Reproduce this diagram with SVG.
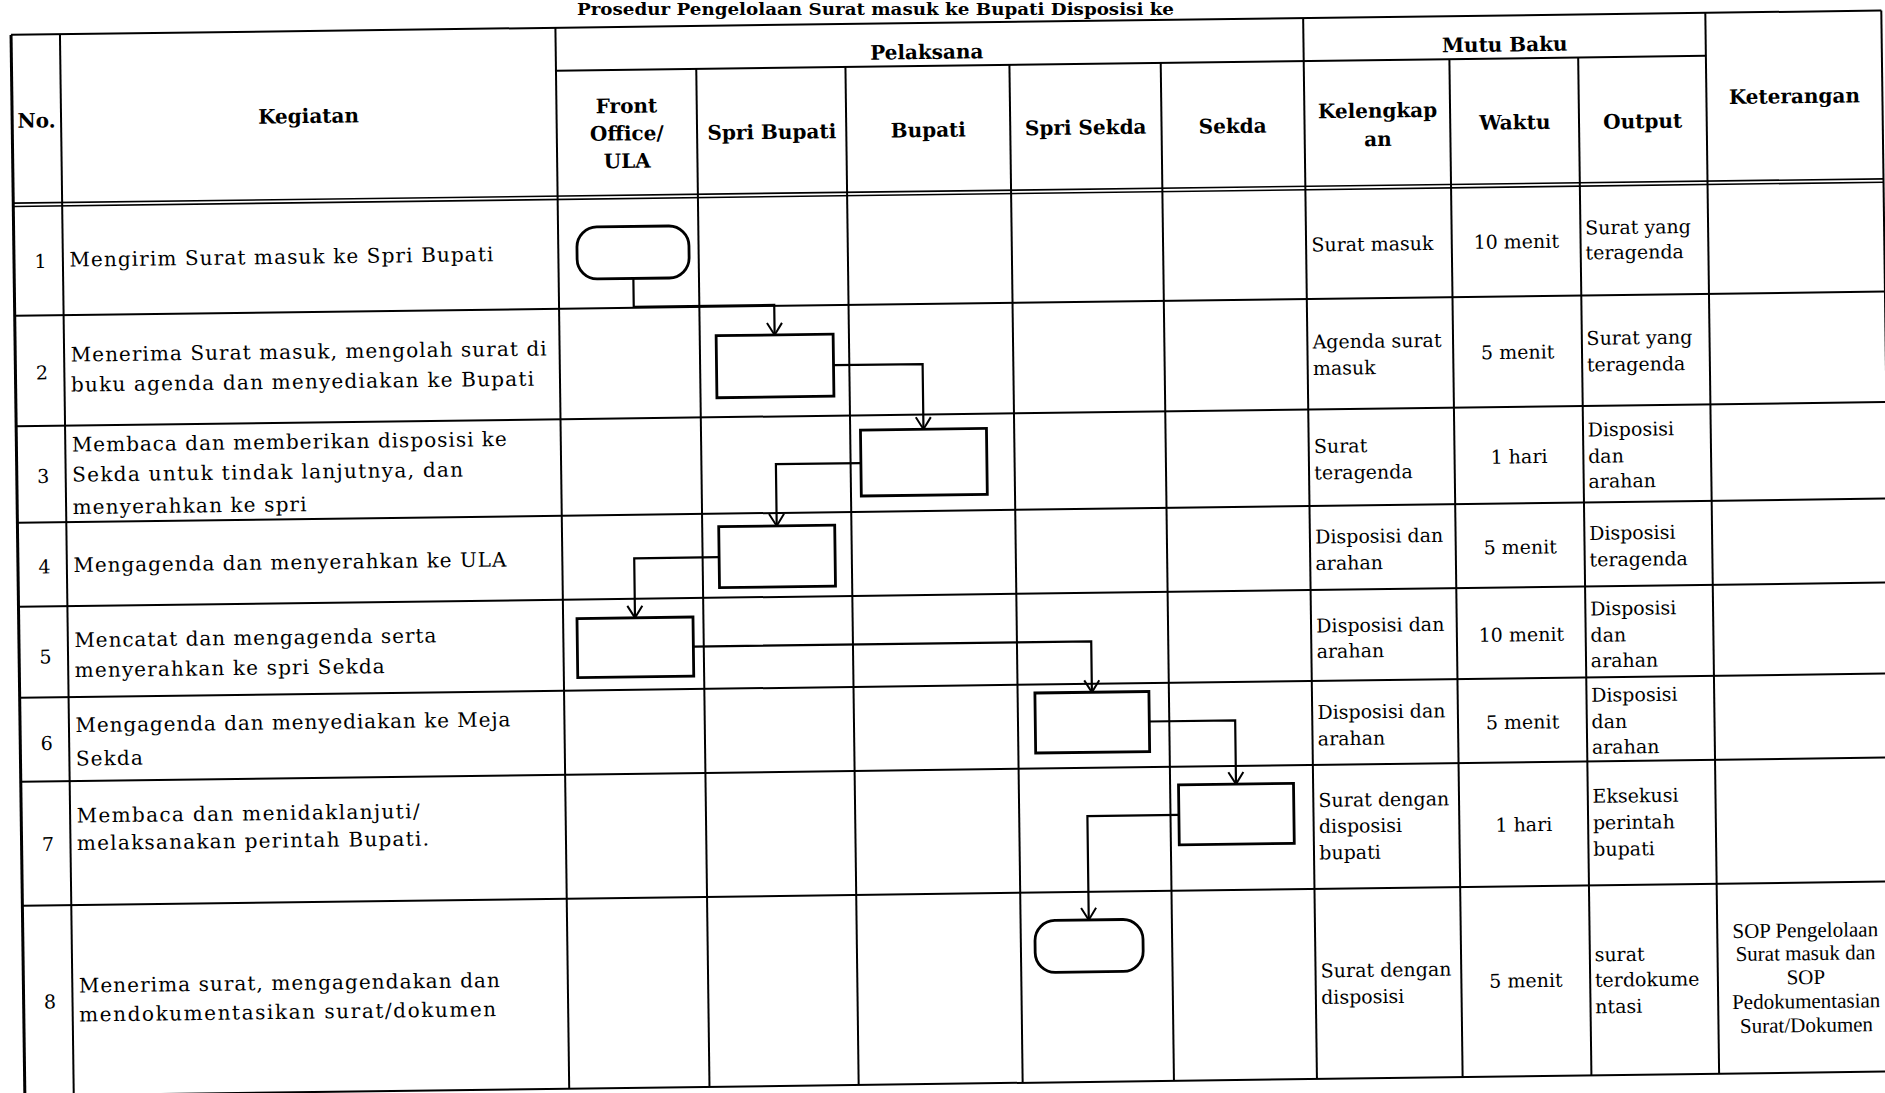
<svg xmlns="http://www.w3.org/2000/svg" width="1885" height="1093" viewBox="0 0 1885 1093">
<style>
.g{stroke:#000;stroke-width:2;fill:none}
.gb{stroke:#000;stroke-width:3;fill:none}
.dl{stroke:#000;stroke-width:1.6;fill:none}
.box{fill:#fff;stroke:#000;stroke-width:2.8}
.cn{fill:none;stroke:#000;stroke-width:2.2}
.h{font-family:"DejaVu Serif","Liberation Serif",serif;font-weight:bold;font-size:20px;fill:#000;text-anchor:middle}
.t{font-family:"DejaVu Serif","Liberation Serif",serif;font-size:20px;fill:#000}
.n{font-family:"DejaVu Serif","Liberation Serif",serif;font-size:19px;fill:#000;text-anchor:middle}
.m{font-family:"DejaVu Serif","Liberation Serif",serif;font-size:19px;fill:#000}
.mc{font-family:"DejaVu Serif","Liberation Serif",serif;font-size:19px;fill:#000;text-anchor:middle}
.k{font-family:"Liberation Serif","DejaVu Serif",serif;font-size:21px;fill:#000;text-anchor:middle}
.ti{font-family:"DejaVu Serif","Liberation Serif",serif;font-weight:bold;font-size:17px;fill:#000}
</style>
<defs>
<marker id="arr" markerUnits="userSpaceOnUse" markerWidth="20" markerHeight="20" viewBox="0 0 20 20" refX="14" refY="10" orient="auto">
<path d="M2,2.5 L14,10 L2,17.5" fill="none" stroke="#000" stroke-width="2"/>
</marker>
</defs>
<rect x="0" y="0" width="1885" height="1093" fill="#fff"/>
<text class="ti" x="577" y="15" textLength="597" lengthAdjust="spacingAndGlyphs">Prosedur Pengelolaan Surat masuk ke Bupati Disposisi ke</text>
<g transform="rotate(-0.745)">
<g id="grid">
<line class="g" x1="10.6" y1="35" x2="1881" y2="35"/>
<line class="g" x1="555" y1="78" x2="1705" y2="78"/>
<line class="dl" x1="10.6" y1="203.3" x2="1881" y2="203.3"/>
<line class="dl" x1="10.6" y1="206.7" x2="1881" y2="206.7"/>
<line class="g" x1="10.6" y1="316" x2="1881" y2="316"/>
<line class="g" x1="10.6" y1="426.5" x2="1881" y2="426.5"/>
<line class="g" x1="10.6" y1="523" x2="1881" y2="523"/>
<line class="g" x1="10.6" y1="607" x2="1881" y2="607"/>
<line class="g" x1="10.6" y1="698" x2="1881" y2="698"/>
<line class="g" x1="10.6" y1="782" x2="1881" y2="782"/>
<line class="g" x1="10.6" y1="906" x2="1881" y2="906"/>
<line class="g" x1="10.6" y1="1096" x2="1881" y2="1096"/>
<line class="gb" x1="10.6" y1="35" x2="10.6" y2="1096"/>
<line class="g" x1="59.5" y1="35" x2="59.5" y2="1096"/>
<line class="g" x1="555" y1="35" x2="555" y2="1096"/>
<line class="g" x1="695.3" y1="78" x2="695.3" y2="1096"/>
<line class="g" x1="844.5" y1="78" x2="844.5" y2="1096"/>
<line class="g" x1="1008.5" y1="78" x2="1008.5" y2="1096"/>
<line class="g" x1="1159.8" y1="78" x2="1159.8" y2="1096"/>
<line class="g" x1="1302.8" y1="35" x2="1302.8" y2="1096"/>
<line class="g" x1="1448.5" y1="78" x2="1448.5" y2="1096"/>
<line class="g" x1="1577.3" y1="78" x2="1577.3" y2="1096"/>
<line class="g" x1="1705" y1="35" x2="1705" y2="1096"/>
<line class="g" x1="1881" y1="35" x2="1881" y2="1096"/>
</g>
<g id="header">
<text class="h" x="35" y="128">No.</text>
<text class="h" x="307" y="127">Kegiatan</text>
<text class="h" x="926" y="71">Pelaksana</text>
<text class="h" x="1504" y="71">Mutu Baku</text>
<text class="h" x="625" y="121">Front</text>
<text class="h" x="625" y="148.5">Office/</text>
<text class="h" x="625" y="176">ULA</text>
<text class="h" x="770" y="149">Spri Bupati</text>
<text class="h" x="926.5" y="149">Bupati</text>
<text class="h" x="1084" y="148.5">Spri Sekda</text>
<text class="h" x="1231" y="149">Sekda</text>
<text class="h" x="1376" y="135.5">Kelengkap</text>
<text class="h" x="1376" y="164">an</text>
<text class="h" x="1513" y="149">Waktu</text>
<text class="h" x="1641" y="149.5">Output</text>
<text class="h" x="1793" y="126.5">Keterangan</text>
</g>
<g id="rows">
<text class="n" x="37" y="268.5">1</text>
<text class="t" x="66" y="267.5" textLength="424">Mengirim Surat masuk ke Spri Bupati</text>
<text class="n" x="37" y="380">2</text>
<text class="t" x="66" y="362.5" textLength="476">Menerima Surat masuk, mengolah surat di</text>
<text class="t" x="66" y="392.5" textLength="463">buku agenda dan menyediakan ke Bupati</text>
<text class="n" x="37" y="483.5">3</text>
<text class="t" x="66" y="452.5" textLength="435">Membaca dan memberikan disposisi ke</text>
<text class="t" x="66" y="482.5" textLength="391">Sekda untuk tindak lanjutnya, dan</text>
<text class="t" x="66" y="515" textLength="234">menyerahkan ke spri</text>
<text class="n" x="37" y="574">4</text>
<text class="t" x="66" y="573" textLength="433">Mengagenda dan menyerahkan ke ULA</text>
<text class="n" x="37" y="664">5</text>
<text class="t" x="66" y="648" textLength="362">Mencatat dan mengagenda serta</text>
<text class="t" x="66" y="678" textLength="310">menyerahkan ke spri Sekda</text>
<text class="n" x="37" y="750.5">6</text>
<text class="t" x="66" y="733" textLength="435">Mengagenda dan menyediakan ke Meja</text>
<text class="t" x="66" y="766.5" textLength="67">Sekda</text>
<text class="n" x="37" y="851.5">7</text>
<text class="t" x="66" y="823.5" textLength="343">Membaca dan menidaklanjuti/</text>
<text class="t" x="66" y="851" textLength="352">melaksanakan perintah Bupati.</text>
<text class="n" x="37" y="1009">8</text>
<text class="t" x="66" y="993.5" textLength="421">Menerima surat, mengagendakan dan</text>
<text class="t" x="66" y="1022.5" textLength="417">mendokumentasikan surat/dokumen</text>
</g>
<g id="mutu">
<text class="m" x="1308" y="268.5">Surat masuk</text>
<text class="mc" x="1513" y="268">10 menit</text>
<text class="m" x="1582" y="255">Surat yang</text>
<text class="m" x="1582" y="280">teragenda</text>

<text class="m" x="1308" y="365.5">Agenda surat</text>
<text class="m" x="1308" y="392">masuk</text>
<text class="mc" x="1513" y="378.5">5 menit</text>
<text class="m" x="1582" y="365.5">Surat yang</text>
<text class="m" x="1582" y="392">teragenda</text>

<text class="m" x="1308" y="470">Surat</text>
<text class="m" x="1308" y="496.5">teragenda</text>
<text class="mc" x="1513" y="483">1 hari</text>
<text class="m" x="1582" y="457">Disposisi</text>
<text class="m" x="1582" y="483.5">dan</text>
<text class="m" x="1582" y="508.5">arahan</text>

<text class="m" x="1308" y="560.5">Disposisi dan</text>
<text class="m" x="1308" y="587">arahan</text>
<text class="mc" x="1513" y="573.5">5 menit</text>
<text class="m" x="1582" y="560.5">Disposisi</text>
<text class="m" x="1582" y="587">teragenda</text>

<text class="m" x="1308" y="649.5">Disposisi dan</text>
<text class="m" x="1308" y="675">arahan</text>
<text class="mc" x="1513" y="661">10 menit</text>
<text class="m" x="1582" y="636">Disposisi</text>
<text class="m" x="1582" y="662.5">dan</text>
<text class="m" x="1582" y="688">arahan</text>

<text class="m" x="1308" y="736">Disposisi dan</text>
<text class="m" x="1308" y="762.5">arahan</text>
<text class="mc" x="1513" y="748.5">5 menit</text>
<text class="m" x="1582" y="722.5">Disposisi</text>
<text class="m" x="1582" y="749">dan</text>
<text class="m" x="1582" y="774.5">arahan</text>

<text class="m" x="1308" y="824">Surat dengan</text>
<text class="m" x="1308" y="850">disposisi</text>
<text class="m" x="1308" y="876.5">bupati</text>
<text class="mc" x="1513" y="851">1 hari</text>
<text class="m" x="1582" y="823.5">Eksekusi</text>
<text class="m" x="1582" y="850">perintah</text>
<text class="m" x="1582" y="876.5">bupati</text>

<text class="m" x="1308" y="994.5">Surat dengan</text>
<text class="m" x="1308" y="1021">disposisi</text>
<text class="mc" x="1513" y="1007">5 menit</text>
<text class="m" x="1582" y="982">surat</text>
<text class="m" x="1582" y="1007.5">terdokume</text>
<text class="m" x="1582" y="1034">ntasi</text>

<text class="k" x="1793" y="960.5">SOP Pengelolaan</text>
<text class="k" x="1793" y="983.5">Surat masuk dan</text>
<text class="k" x="1793" y="1007.5">SOP</text>
<text class="k" x="1793" y="1031.5">Pedokumentasian</text>
<text class="k" x="1793" y="1055.5">Surat/Dokumen</text>
</g>
<g id="connectors">
<path class="cn" d="M629.7,286.7 V315 H770.2 V345" marker-end="url(#arr)"/>
<path class="cn" d="M828.7,376 H917.8 V441.2" marker-end="url(#arr)"/>
<path class="cn" d="M854.8,474.2 H769.8 V536" marker-end="url(#arr)"/>
<path class="cn" d="M711.8,566.5 H626.9 V626" marker-end="url(#arr)"/>
<path class="cn" d="M684.9,655.5 H1082.8 V706.4" marker-end="url(#arr)"/>
<path class="cn" d="M1139.8,736.4 H1225.7 V800.1" marker-end="url(#arr)"/>
<path class="cn" d="M1168.2,830.1 H1076.7 V934" marker-end="url(#arr)"/>
</g>
<g id="node-start"><rect class="box" x="573.7" y="234.7" width="112" height="52" rx="20"/></g>
<g id="node-2"><rect class="box" x="711.7" y="345" width="117" height="62"/></g>
<g id="node-3"><rect class="box" x="854.8" y="441.2" width="126" height="66"/></g>
<g id="node-4"><rect class="box" x="711.8" y="536" width="116" height="61"/></g>
<g id="node-5"><rect class="box" x="568.9" y="626" width="116" height="59"/></g>
<g id="node-6"><rect class="box" x="1025.8" y="706.4" width="114" height="60"/></g>
<g id="node-7"><rect class="box" x="1168.2" y="800.1" width="115" height="60"/></g>
<g id="node-end"><rect class="box" x="1022.7" y="934" width="108" height="52" rx="20"/></g>
</g>
</svg>
